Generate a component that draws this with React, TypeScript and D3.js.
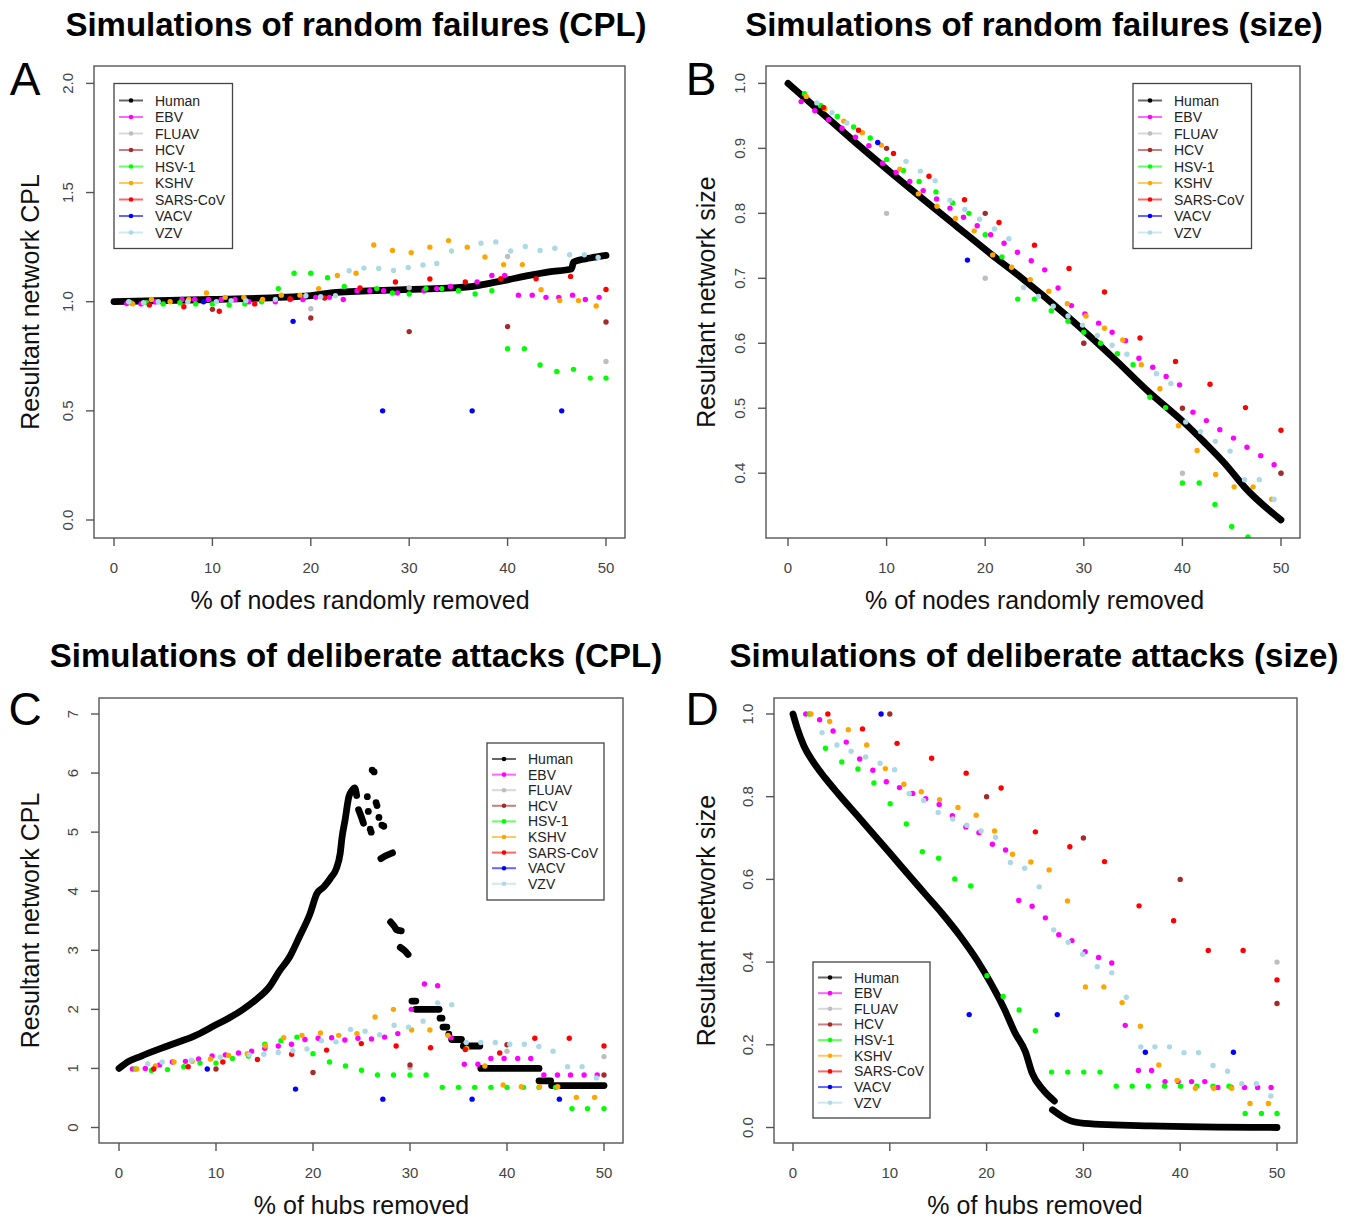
import React from "react";
import * as d3 from "d3";

type P = [number, number];

const seriesNames = ["Human", "EBV", "FLUAV", "HCV", "HSV-1", "KSHV", "SARS-CoV", "VACV", "VZV"];
const seriesColors = ["#000000", "#FF00FF", "#BEBEBE", "#A52A2A", "#00FF00", "#FFA500", "#FF0000", "#0000FF", "#ADD8E6"];
const xTicks = [0, 10, 20, 30, 40, 50];
const ticksCplA = [0, 0.5, 1, 1.5, 2];
const ticksSizeB = [0.4, 0.5, 0.6, 0.7, 0.8, 0.9, 1.0];
const ticksCplC = [0, 1, 2, 3, 4, 5, 6, 7];
const ticksSizeD = [0, 0.2, 0.4, 0.6, 0.8, 1.0];

// ---------- Panel A: random failures (CPL) ----------
const randCplHuman: P[] = [[0, 1.0], [10, 1.01], [20, 1.028], [22.6, 1.043], [30, 1.056], [36.3, 1.069], [38, 1.083], [40, 1.1], [41.8, 1.117], [44.2, 1.137], [46.5, 1.15], [46.7, 1.182], [48.4, 1.2], [50, 1.212]];
const randCplEBV: P[] = [[1.3, 0.992], [2.75, 0.99], [4.2, 1.0], [6.9, 1.01], [8.2, 1.01], [9.6, 1.01], [10.9, 1.01], [12.3, 1.01], [13.7, 1.0], [16.4, 1.0], [17.9, 1.01], [19.2, 1.01], [20.5, 1.02], [21.9, 1.02], [23.3, 1.01], [24.7, 1.05], [26.0, 1.05], [27.4, 1.05], [28.8, 1.04], [31.5, 1.05], [32.8, 1.06], [34.2, 1.07], [36.9, 1.09], [38.4, 1.12], [39.7, 1.12], [41.1, 1.03], [42.5, 1.03], [43.9, 1.02], [45.2, 1.02], [46.6, 1.03], [47.9, 1.01], [49.3, 1.02]];
const randCplFLUAV: P[] = [[20, 0.968], [30, 1.064], [40, 1.207], [50, 0.726]];
const randCplHCV: P[] = [[10, 0.965], [20, 0.925], [30, 0.863], [40, 0.886], [50, 0.907]];
const randCplHSV1: P[] = [[1.7, 0.995], [3.3, 0.995], [5.0, 0.99], [6.7, 0.995], [8.3, 0.99], [10.0, 0.99], [11.7, 0.985], [13.3, 0.99], [15.0, 1.0], [16.7, 1.06], [18.3, 1.13], [20.0, 1.13], [21.7, 1.11], [23.4, 1.07], [26.7, 1.06], [28.3, 1.04], [30.0, 1.035], [31.7, 1.06], [33.3, 1.06], [35.0, 1.05], [36.7, 1.035], [38.4, 1.05], [40.0, 0.785], [41.7, 0.785], [43.3, 0.71], [45.0, 0.68], [46.7, 0.69], [48.4, 0.65], [50.0, 0.65]];
const randCplKSHV: P[] = [[1.9, 0.99], [3.8, 1.01], [5.7, 1.0], [7.6, 1.01], [9.4, 1.04], [11.3, 1.02], [13.2, 1.02], [15.1, 1.01], [17.0, 1.03], [18.9, 1.03], [20.8, 1.06], [22.7, 1.12], [24.6, 1.13], [26.4, 1.26], [28.3, 1.235], [30.2, 1.225], [32.1, 1.25], [34.0, 1.28], [35.9, 1.25], [37.7, 1.205], [39.6, 1.17], [41.5, 1.17], [43.4, 1.055], [45.3, 1.005], [47.2, 1.005], [49.0, 0.98]];
const randCplSARS: P[] = [[3.6, 0.985], [7.1, 0.977], [10.7, 0.956], [14.3, 0.99], [17.9, 1.014], [21.4, 1.017], [25.0, 1.063], [28.6, 1.09], [32.1, 1.104], [35.7, 1.09], [39.3, 1.105], [42.9, 1.105], [46.4, 1.116], [50.0, 1.056]];
const randCplVACV: P[] = [[9.1, 1.0], [18.2, 0.91], [27.3, 0.5], [36.4, 0.5], [45.5, 0.5]];
const randCplVZV: P[] = [[1.5, 1.0], [3.0, 0.995], [4.5, 1.0], [7.5, 1.0], [10.4, 1.0], [11.9, 1.005], [13.4, 1.005], [16.4, 1.01], [19.5, 1.027], [21.0, 1.023], [22.5, 1.027], [23.9, 1.142], [25.4, 1.154], [26.9, 1.152], [28.4, 1.143], [29.9, 1.157], [31.4, 1.168], [32.8, 1.175], [34.3, 1.232], [37.3, 1.268], [38.8, 1.274], [40.3, 1.232], [41.8, 1.253], [43.3, 1.235], [44.8, 1.245], [46.3, 1.215], [47.8, 1.215], [49.2, 1.203]];

// ---------- Panel B: random failures (size) ----------
const randSizeHuman: P[] = [[0, 1.0], [4, 0.947], [7.3, 0.903], [10.1, 0.867], [17.1, 0.78], [20.6, 0.737], [23.4, 0.704], [28.3, 0.642], [33.1, 0.576], [36.6, 0.525], [40.1, 0.479], [42.2, 0.448], [44.3, 0.415], [46.4, 0.377], [50, 0.328]];
const randSizeEBV: P[] = [[1.33, 0.972], [2.72, 0.958], [4.12, 0.944], [5.48, 0.931], [6.84, 0.917], [8.2, 0.904], [9.6, 0.877], [10.96, 0.863], [12.35, 0.849], [13.71, 0.835], [15.07, 0.822], [16.43, 0.808], [17.8, 0.794], [19.19, 0.781], [20.55, 0.767], [21.91, 0.754], [23.27, 0.74], [24.67, 0.727], [26.03, 0.713], [27.39, 0.685], [28.75, 0.658], [30.11, 0.645], [31.5, 0.631], [32.87, 0.617], [34.23, 0.604], [35.59, 0.577], [36.99, 0.563], [38.35, 0.549], [39.71, 0.536], [41.07, 0.494], [42.43, 0.481], [43.79, 0.467], [45.18, 0.454], [46.55, 0.44], [47.94, 0.427], [49.3, 0.413]];
const randSizeFLUAV: P[] = [[10, 0.8], [20, 0.7], [30, 0.6], [40, 0.4], [50, 0.4]];
const randSizeHCV: P[] = [[10, 0.9], [20, 0.8], [30, 0.6], [40, 0.5], [50, 0.4]];
const randSizeHSV1: P[] = [[1.67, 0.984], [3.3, 0.966], [5.0, 0.949], [6.66, 0.933], [8.34, 0.916], [10.0, 0.883], [11.7, 0.866], [13.3, 0.849], [15.0, 0.833], [16.7, 0.816], [18.35, 0.8], [20.0, 0.767], [21.7, 0.733], [23.3, 0.668], [25.0, 0.668], [26.7, 0.65], [28.4, 0.634], [30.0, 0.617], [31.7, 0.6], [33.4, 0.584], [35.0, 0.567], [36.7, 0.517], [38.3, 0.501], [40.0, 0.385], [41.7, 0.385], [43.3, 0.352], [45.0, 0.318], [46.65, 0.302]];
const randSizeKSHV: P[] = [[1.85, 0.98], [3.73, 0.961], [5.65, 0.942], [7.54, 0.924], [9.46, 0.905], [11.34, 0.868], [13.22, 0.83], [15.11, 0.811], [16.99, 0.792], [18.88, 0.773], [20.76, 0.736], [22.68, 0.717], [24.57, 0.698], [26.45, 0.68], [28.33, 0.661], [30.22, 0.642], [32.1, 0.623], [33.95, 0.605], [35.83, 0.567], [37.72, 0.53], [39.6, 0.473], [41.49, 0.435], [43.37, 0.398], [45.25, 0.379], [47.17, 0.379], [49.06, 0.36]];
const randSizeSARS: P[] = [[3.6, 0.963], [7.15, 0.928], [10.7, 0.892], [14.3, 0.857], [17.9, 0.821], [21.4, 0.786], [25.0, 0.751], [28.5, 0.715], [32.1, 0.679], [35.7, 0.608], [39.3, 0.572], [42.8, 0.537], [46.4, 0.501], [50.0, 0.466]];
const randSizeVACV: P[] = [[9.1, 0.909], [18.2, 0.728]];
const randSizeVZV: P[] = [[2.93, 0.97], [4.47, 0.955], [5.97, 0.939], [11.97, 0.88], [13.43, 0.865], [14.93, 0.85], [16.43, 0.82], [17.93, 0.806], [19.43, 0.791], [20.94, 0.776], [22.4, 0.761], [23.9, 0.686], [25.4, 0.672], [26.9, 0.657], [28.4, 0.642], [29.87, 0.628], [31.37, 0.612], [32.87, 0.597], [34.37, 0.583], [37.37, 0.553], [38.83, 0.538], [40.34, 0.479], [41.84, 0.464], [43.34, 0.449], [44.84, 0.434], [46.3, 0.39], [47.8, 0.39], [49.3, 0.36]];

// ---------- Panel C: deliberate attacks (CPL) ----------
const attCplHumanSegments: P[][] = [
  [[0, 1.0], [0.9, 1.11], [2.3, 1.21], [5, 1.38], [7.8, 1.55], [9.9, 1.73], [11.3, 1.85], [12.7, 1.99], [14.1, 2.16], [15.5, 2.38], [16.5, 2.64], [17.6, 2.89], [18.6, 3.23], [19.7, 3.62], [20.4, 3.96], [21.1, 4.07], [21.8, 4.22], [22.4, 4.38], [22.8, 4.64], [23.0, 4.92], [23.3, 5.2], [23.7, 5.6], [24.0, 5.7], [24.3, 5.75], [24.5, 5.62]],
  [[24.7, 5.38], [25.0, 5.25], [25.2, 5.15]],
  [[27.0, 4.55], [27.5, 4.6], [28.2, 4.65]],
  [[28.0, 3.48], [28.4, 3.4], [28.6, 3.35], [29.1, 3.33]],
  [[29.0, 3.05], [29.4, 3.0], [29.8, 2.93]],
  [[30.2, 2.14], [30.6, 2.14]],
  [[30.6, 2.0], [33.0, 2.0]],
  [[33.1, 1.85], [33.3, 1.85]],
  [[33.4, 1.7], [33.8, 1.7]],
  [[34.3, 1.49], [35.3, 1.49]],
  [[35.5, 1.38], [37.2, 1.38]],
  [[37.3, 1.0], [43.3, 1.0]],
  [[43.3, 0.79], [44.5, 0.79]],
  [[44.6, 0.71], [50, 0.71]],
];
const attCplHumanDots: P[] = [[25.6, 5.6], [25.7, 5.35], [25.9, 5.05], [26.0, 5.0], [26.1, 6.05], [26.3, 6.02], [26.5, 5.5], [26.6, 5.45], [26.8, 5.25], [27.1, 5.12], [27.3, 5.1], [34.0, 1.58]];
const attCplEBV: P[] = [[1.39, 0.99], [2.71, 1.0], [4.18, 1.06], [5.5, 1.11], [6.85, 1.12], [8.21, 1.16], [9.6, 1.21], [10.96, 1.23], [12.32, 1.26], [13.67, 1.29], [15.03, 1.34], [16.42, 1.38], [17.78, 1.41], [19.17, 1.49], [20.53, 1.51], [21.92, 1.52], [23.28, 1.48], [24.63, 1.51], [26.03, 1.5], [27.38, 1.53], [28.74, 1.59], [30.13, 2.0], [31.49, 2.43], [32.85, 2.4], [34.24, 1.52], [35.6, 1.07], [37.0, 1.07], [38.34, 1.17], [39.7, 1.17], [41.1, 1.17], [42.45, 1.17], [43.8, 0.89], [45.2, 0.89], [46.55, 0.89], [47.95, 0.89], [49.3, 0.89]];
const attCplFLUAV: P[] = [[30, 1.01], [40, 1.29], [50, 1.2]];
const attCplHCV: P[] = [[10, 0.99], [20, 0.93], [30, 1.06], [40, 1.4], [50, 0.89]];
const attCplHSV1: P[] = [[1.67, 0.99], [3.34, 0.965], [5.0, 0.98], [6.68, 1.03], [8.35, 1.09], [10.0, 1.09], [11.7, 1.17], [13.36, 1.21], [15.03, 1.41], [16.7, 1.47], [18.34, 1.53], [20.0, 1.25], [21.7, 1.11], [23.35, 1.04], [25.0, 0.97], [26.65, 0.89], [28.3, 0.89], [30.0, 0.89], [31.66, 0.89], [33.33, 0.68], [35.0, 0.68], [36.67, 0.68], [38.34, 0.68], [40.0, 0.68], [41.7, 0.68], [43.3, 0.68], [45.0, 0.68], [46.7, 0.32], [48.3, 0.32], [50.0, 0.32]];
const attCplKSHV: P[] = [[1.84, 0.99], [3.76, 1.04], [5.67, 1.11], [7.55, 1.12], [9.43, 1.16], [11.3, 1.22], [13.22, 1.25], [15.1, 1.38], [16.98, 1.52], [18.86, 1.56], [20.77, 1.6], [22.65, 1.56], [24.53, 1.59], [26.4, 1.87], [28.29, 2.0], [30.17, 1.65], [32.05, 1.65], [33.92, 1.56], [35.84, 1.34], [37.72, 1.04], [39.6, 0.72], [41.47, 0.69], [43.35, 0.69], [45.23, 0.69], [47.15, 0.51], [49.03, 0.51]];
const attCplSARS: P[] = [[3.58, 0.99], [7.13, 1.03], [10.7, 1.11], [14.27, 1.15], [17.8, 1.24], [21.4, 1.31], [24.98, 1.42], [28.57, 1.38], [32.12, 1.35], [35.7, 1.32], [39.25, 1.26], [42.87, 1.51], [46.42, 1.51], [50, 1.38]];
const attCplVACV: P[] = [[9.1, 0.99], [18.2, 0.65], [27.2, 0.48], [36.4, 0.48], [45.4, 0.48]];
const attCplVZV: P[] = [[2.96, 1.08], [4.45, 1.11], [7.45, 1.14], [10.44, 1.19], [13.43, 1.23], [14.93, 1.24], [16.42, 1.27], [17.92, 1.3], [19.38, 1.33], [20.88, 1.47], [22.37, 1.45], [23.87, 1.66], [25.37, 1.63], [26.86, 1.57], [28.36, 1.73], [29.85, 1.7], [31.35, 1.8], [32.85, 2.11], [34.31, 2.08], [35.8, 1.44], [37.3, 1.44], [38.8, 1.44], [40.29, 1.41], [41.79, 1.41], [43.28, 1.37], [44.75, 1.29], [46.24, 1.03], [47.74, 1.03], [49.23, 0.84]];

// ---------- Panel D: deliberate attacks (size) ----------
const attSizeHumanSegments: P[][] = [
  [[0, 1.0], [0.43, 0.966], [1.14, 0.922], [2.04, 0.886], [3.29, 0.846], [4.71, 0.806], [6.5, 0.758], [8.29, 0.71], [10.07, 0.662], [11.86, 0.613], [13.64, 0.565], [15.43, 0.517], [17.2, 0.465], [19.0, 0.405], [20.43, 0.349], [21.86, 0.285], [22.93, 0.229], [24.0, 0.184], [24.7, 0.132], [25.8, 0.092], [27.0, 0.064]],
  [[26.8, 0.043], [28.3, 0.02], [30.1, 0.01], [36.9, 0.004], [50, 0.0]],
];
const attSizeEBV: P[] = [[1.32, 1.0], [2.75, 0.986], [4.14, 0.959], [5.5, 0.932], [6.89, 0.891], [8.25, 0.864], [9.64, 0.836], [11.0, 0.822], [12.36, 0.808], [13.71, 0.795], [15.1, 0.781], [16.46, 0.754], [17.86, 0.727], [19.21, 0.713], [20.6, 0.685], [21.96, 0.671], [23.32, 0.549], [24.7, 0.535], [26.07, 0.507], [27.46, 0.466], [28.82, 0.452], [30.18, 0.425], [31.57, 0.411], [32.93, 0.398], [34.32, 0.247], [35.68, 0.138], [37.04, 0.138], [38.43, 0.111], [39.79, 0.111], [41.18, 0.111], [42.54, 0.111], [43.89, 0.097], [45.29, 0.097], [46.64, 0.097], [48.0, 0.097], [49.39, 0.097]];
const attSizeFLUAV: P[] = [[50, 0.4]];
const attSizeHCV: P[] = [[10, 1.0], [20, 0.8], [30, 0.7], [40, 0.6], [50, 0.3]];
const attSizeHSV1: P[] = [[1.68, 1.0], [3.36, 0.917], [5.04, 0.884], [6.71, 0.867], [8.36, 0.833], [10.04, 0.783], [11.71, 0.734], [13.36, 0.667], [15.04, 0.651], [16.71, 0.601], [18.36, 0.584], [20.04, 0.367], [21.71, 0.317], [23.36, 0.284], [25.04, 0.234], [26.71, 0.134], [28.39, 0.134], [30.04, 0.134], [31.71, 0.134], [33.39, 0.1], [35.04, 0.1], [36.71, 0.1], [38.39, 0.1], [40.04, 0.1], [41.71, 0.1], [43.39, 0.1], [45.04, 0.1], [46.71, 0.034], [48.39, 0.034], [50.0, 0.034]];
const attSizeKSHV: P[] = [[1.86, 1.0], [3.79, 0.982], [5.71, 0.962], [7.61, 0.925], [9.54, 0.868], [11.46, 0.83], [13.25, 0.812], [15.14, 0.793], [17.04, 0.774], [18.93, 0.755], [20.82, 0.717], [22.68, 0.661], [24.57, 0.642], [26.46, 0.623], [28.36, 0.548], [30.21, 0.34], [32.11, 0.34], [34.0, 0.302], [35.89, 0.245], [37.79, 0.151], [39.68, 0.114], [41.57, 0.095], [43.46, 0.095], [45.32, 0.095], [47.21, 0.058], [49.11, 0.058]];
const attSizeSARS: P[] = [[3.6, 1.0], [7.18, 0.964], [10.75, 0.929], [14.32, 0.893], [17.89, 0.857], [21.5, 0.821], [25.04, 0.715], [28.6, 0.679], [32.18, 0.643], [35.75, 0.536], [39.32, 0.5], [42.9, 0.428], [46.5, 0.428], [50.0, 0.357]];
const attSizeVACV: P[] = [[9.1, 1.0], [18.2, 0.273], [27.3, 0.273], [36.4, 0.182], [45.5, 0.182]];
const attSizeVZV: P[] = [[3.0, 0.955], [4.54, 0.925], [6.0, 0.91], [7.5, 0.896], [9.0, 0.881], [10.5, 0.865], [12.0, 0.807], [13.5, 0.791], [15.0, 0.762], [16.5, 0.746], [17.96, 0.731], [19.43, 0.717], [20.93, 0.702], [22.46, 0.641], [23.93, 0.627], [25.43, 0.582], [26.93, 0.478], [28.43, 0.448], [29.93, 0.419], [31.43, 0.389], [32.93, 0.374], [34.43, 0.315], [35.93, 0.195], [37.39, 0.195], [38.89, 0.195], [40.39, 0.181], [41.89, 0.181], [43.39, 0.15], [44.89, 0.136], [46.36, 0.106], [47.86, 0.106], [49.36, 0.076]];

const FONT = "'Liberation Sans', Arial, Helvetica, sans-serif";

type PanelProps = {
  id: string;
  box: [number, number, number, number]; // x0, x1, y0, y1
  xRange: [number, number];
  yDomain: [number, number];
  yRange: [number, number];
  yTicks: number[];
  yFmt: (v: number) => string;
  title: string;
  titleX: number;
  titleY: number;
  letter: string;
  letterX: number;
  letterY: number;
  xLabel: string;
  yLabel: string;
  yLabelX: number;
  humanSegments: P[][];
  humanDots: P[];
  viruses: P[][];
  legend: { x: number; y: number; w: number; h: number; row0: number; gap: number };
};

function Panel(p: PanelProps) {
  const x = d3.scaleLinear().domain([0, 50]).range(p.xRange);
  const y = d3.scaleLinear().domain(p.yDomain).range(p.yRange);
  const line = d3
    .line<P>()
    .x((d) => x(d[0]))
    .y((d) => y(d[1]))
    .curve(d3.curveMonotoneX);
  const [bx0, bx1, by0, by1] = p.box;
  const clipId = "clip-" + p.id;
  const tickColor = "#444";
  const lg = p.legend;
  return (
    <g>
      <defs>
        <clipPath id={clipId}>
          <rect x={bx0} y={by0} width={bx1 - bx0} height={by1 - by0} />
        </clipPath>
      </defs>
      <text x={p.titleX} y={p.titleY} textAnchor="middle" fontSize={33} fontWeight="bold" fontFamily={FONT} fill="#000">
        {p.title}
      </text>
      <text x={p.letterX} y={p.letterY} textAnchor="middle" fontSize={46} fontFamily={FONT} fill="#000">
        {p.letter}
      </text>
      <g clipPath={`url(#${clipId})`}>
        {p.humanSegments.map((s, i) => (
          <path key={"hs" + i} d={line(s) || ""} fill="none" stroke="#000" strokeWidth={6.8} strokeLinecap="round" strokeLinejoin="round" />
        ))}
        {p.humanDots.map((d, i) => (
          <circle key={"hd" + i} cx={x(d[0])} cy={y(d[1])} r={3.4} fill="#000" />
        ))}
        {p.viruses.map((pts, si) =>
          pts.map((d, i) => (
            <circle key={si + "-" + i} cx={x(d[0])} cy={y(d[1])} r={2.7} fill={seriesColors[si + 1]} />
          ))
        )}
      </g>
      <rect x={bx0} y={by0} width={bx1 - bx0} height={by1 - by0} fill="none" stroke="#555" strokeWidth={1.4} />
      {xTicks.map((t) => (
        <g key={"xt" + t}>
          <line x1={x(t)} x2={x(t)} y1={by1} y2={by1 + 8} stroke="#555" strokeWidth={1.4} />
          <text x={x(t)} y={by1 + 35} textAnchor="middle" fontSize={15} fontFamily={FONT} fill={tickColor}>
            {t}
          </text>
        </g>
      ))}
      {p.yTicks.map((t) => (
        <g key={"yt" + t}>
          <line x1={bx0 - 8} x2={bx0} y1={y(t)} y2={y(t)} stroke="#555" strokeWidth={1.4} />
          <text transform={`translate(${bx0 - 21},${y(t)}) rotate(-90)`} textAnchor="middle" fontSize={15} fontFamily={FONT} fill={tickColor}>
            {p.yFmt(t)}
          </text>
        </g>
      ))}
      <text x={(p.xRange[0] + p.xRange[1]) / 2} y={by1 + 71} textAnchor="middle" fontSize={25} fontFamily={FONT} fill="#111">
        {p.xLabel}
      </text>
      <text transform={`translate(${p.yLabelX},${(by0 + by1) / 2}) rotate(-90)`} textAnchor="middle" fontSize={25} fontFamily={FONT} fill="#111">
        {p.yLabel}
      </text>
      <rect x={lg.x} y={lg.y} width={lg.w} height={lg.h} fill="#fff" stroke="#444" strokeWidth={1.3} />
      {seriesNames.map((n, i) => {
        const ry = lg.row0 + i * lg.gap;
        return (
          <g key={"lg" + n}>
            <line x1={lg.x + 5} x2={lg.x + 29} y1={ry} y2={ry} stroke={seriesColors[i]} strokeOpacity={0.6} strokeWidth={2} />
            <circle cx={lg.x + 17} cy={ry} r={2.3} fill={seriesColors[i]} />
            <text x={lg.x + 41} y={ry + 5} fontSize={14} fontFamily={FONT} fill="#222">
              {n}
            </text>
          </g>
        );
      })}
    </g>
  );
}

export default function App() {
  const f1 = (v: number) => v.toFixed(1);
  const f0 = (v: number) => String(v);
  return (
    <div style={{ position: "absolute", left: 0, top: 0 }}>
      <svg width={1347} height={1220} viewBox="0 0 1347 1220" style={{ display: "block", background: "#fff" }}>
        <rect x={0} y={0} width={1347} height={1220} fill="#fff" />
        <Panel
          id="A"
          box={[94, 625, 66, 538]}
          xRange={[114, 606]}
          yDomain={[0, 2]}
          yRange={[520, 83.4]}
          yTicks={ticksCplA}
          yFmt={f1}
          title="Simulations of random failures (CPL)"
          titleX={356}
          titleY={36}
          letter="A"
          letterX={25}
          letterY={95}
          xLabel="% of nodes randomly removed"
          yLabel="Resultant network CPL"
          yLabelX={39}
          humanSegments={[randCplHuman]}
          humanDots={[]}
          viruses={[randCplEBV, randCplFLUAV, randCplHCV, randCplHSV1, randCplKSHV, randCplSARS, randCplVACV, randCplVZV]}
          legend={{ x: 114, y: 83.5, w: 118.5, h: 165, row0: 100.5, gap: 16.5 }}
        />
        <Panel
          id="B"
          box={[766, 1300, 66, 538]}
          xRange={[788, 1281]}
          yDomain={[0.4, 1.0]}
          yRange={[473.2, 83.4]}
          yTicks={ticksSizeB}
          yFmt={f1}
          title="Simulations of random failures (size)"
          titleX={1034}
          titleY={36}
          letter="B"
          letterX={701}
          letterY={95}
          xLabel="% of nodes randomly removed"
          yLabel="Resultant network size"
          yLabelX={715}
          humanSegments={[randSizeHuman]}
          humanDots={[]}
          viruses={[randSizeEBV, randSizeFLUAV, randSizeHCV, randSizeHSV1, randSizeKSHV, randSizeSARS, randSizeVACV, randSizeVZV]}
          legend={{ x: 1133, y: 83.5, w: 118.5, h: 165, row0: 100.5, gap: 16.5 }}
        />
        <Panel
          id="C"
          box={[99, 623, 698, 1143]}
          xRange={[119, 604]}
          yDomain={[0, 7]}
          yRange={[1127.5, 714]}
          yTicks={ticksCplC}
          yFmt={f0}
          title="Simulations of deliberate attacks (CPL)"
          titleX={356}
          titleY={667}
          letter="C"
          letterX={25}
          letterY={725}
          xLabel="% of hubs removed"
          yLabel="Resultant network CPL"
          yLabelX={39}
          humanSegments={attCplHumanSegments}
          humanDots={attCplHumanDots}
          viruses={[attCplEBV, attCplFLUAV, attCplHCV, attCplHSV1, attCplKSHV, attCplSARS, attCplVACV, attCplVZV]}
          legend={{ x: 487, y: 743, w: 117, h: 157, row0: 759, gap: 15.6 }}
        />
        <Panel
          id="D"
          box={[774, 1297, 698, 1143]}
          xRange={[793, 1277]}
          yDomain={[0, 1]}
          yRange={[1127.5, 714]}
          yTicks={ticksSizeD}
          yFmt={f1}
          title="Simulations of deliberate attacks (size)"
          titleX={1034}
          titleY={667}
          letter="D"
          letterX={702}
          letterY={725}
          xLabel="% of hubs removed"
          yLabel="Resultant network size"
          yLabelX={715}
          humanSegments={attSizeHumanSegments}
          humanDots={[]}
          viruses={[attSizeEBV, attSizeFLUAV, attSizeHCV, attSizeHSV1, attSizeKSHV, attSizeSARS, attSizeVACV, attSizeVZV]}
          legend={{ x: 813, y: 962, w: 117, h: 156, row0: 977.5, gap: 15.65 }}
        />
      </svg>
    </div>
  );
}
